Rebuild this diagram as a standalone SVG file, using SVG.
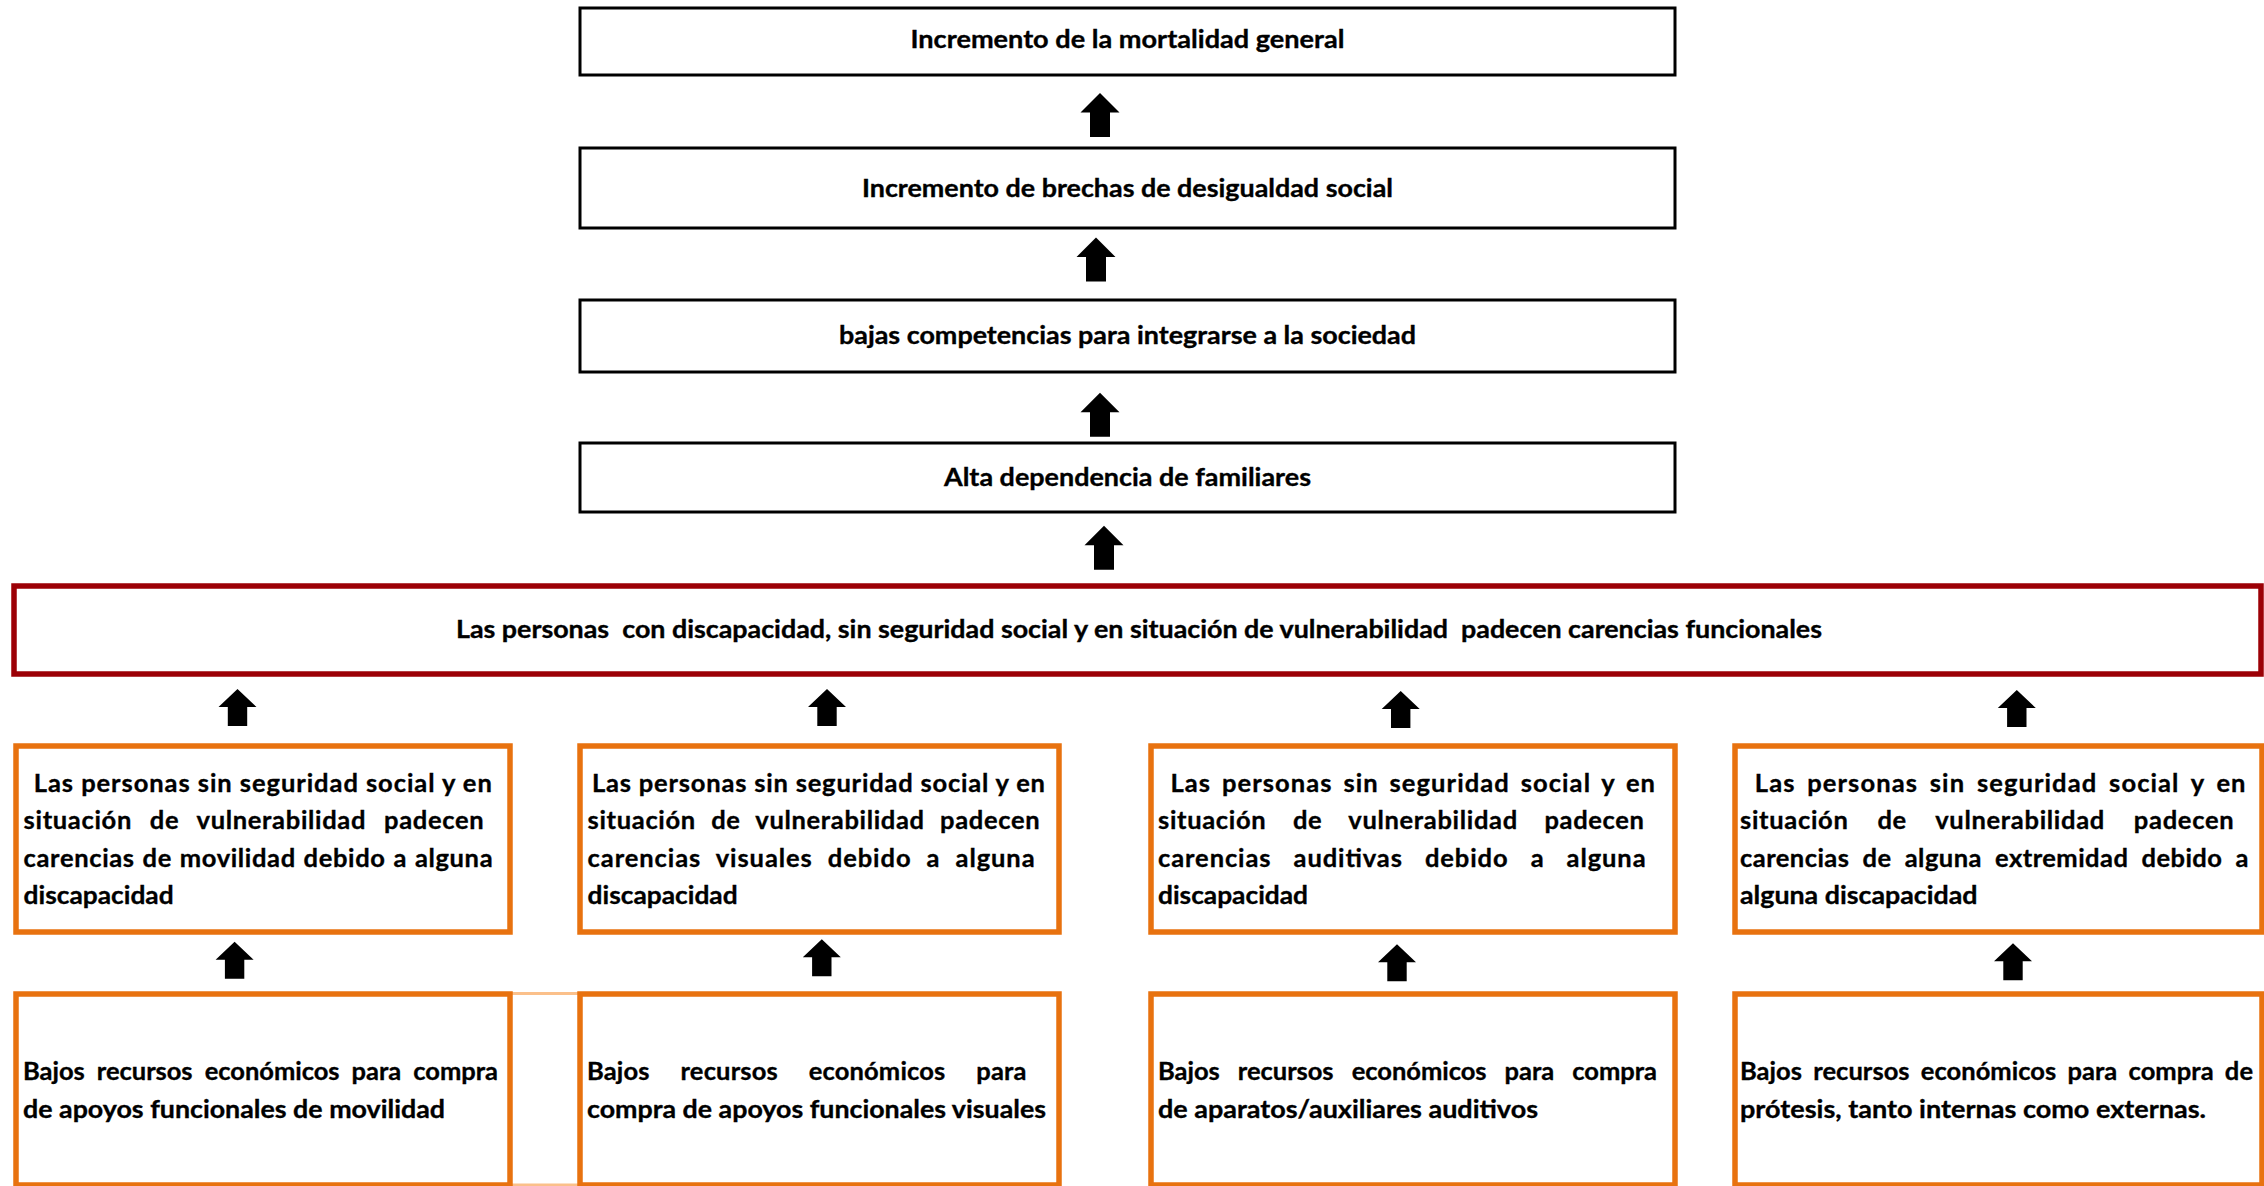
<svg xmlns="http://www.w3.org/2000/svg" xmlns:xlink="http://www.w3.org/1999/xlink" width="2264" height="1186" viewBox="0 0 2264 1186">
  <style>
    .bg { fill: #ffffff; }
    .effect { fill: #ffffff; stroke: #000000; stroke-width: 3; }
    .core { fill: #ffffff; stroke: #9c0006; stroke-width: 5.5; }
    .cause { fill: #ffffff; stroke: #e8720f; stroke-width: 5.5; }
    .seam { stroke: #fbc08a; stroke-width: 3; fill: none; }
    .arrow { fill: #000000; }
    text { font-family: "Lato", "Liberation Sans", sans-serif; font-weight: 700; fill: #000000; stroke: #000000; stroke-width: 0.35; }
    .t1 { font-size: 24px; }
    .t2 { font-size: 25.5px; }
  </style>
  <defs>
    <!-- block arrows, tip at the origin -->
    <path id="arrowL" d="M0,0 L19.5,19.5 L10,19.5 L10,44 L-10,44 L-10,19.5 L-19.5,19.5 Z"/>
    <path id="arrowS" d="M0,0 L19,18 L9.7,18 L9.7,37 L-9.7,37 L-9.7,18 L-19,18 Z"/>
  </defs>

  <rect class="bg" x="0" y="0" width="2264" height="1186"/>

  <!-- effects chain -->
  <g id="efecto-mortalidad">
    <rect class="effect" x="580" y="8" width="1095" height="67"/>
    <text class="t1" x="1127.5" y="48" text-anchor="middle" textLength="434" lengthAdjust="spacingAndGlyphs">Incremento de la mortalidad general</text>
  </g>
  <g id="efecto-brechas">
    <rect class="effect" x="580" y="148" width="1095" height="80"/>
    <text class="t1" x="1127.5" y="196.5" text-anchor="middle" textLength="531" lengthAdjust="spacingAndGlyphs">Incremento de brechas de desigualdad social</text>
  </g>
  <g id="efecto-competencias">
    <rect class="effect" x="580" y="300" width="1095" height="72"/>
    <text class="t1" x="1127.5" y="344" text-anchor="middle" textLength="577" lengthAdjust="spacingAndGlyphs">bajas competencias para integrarse a la sociedad</text>
  </g>
  <g id="efecto-dependencia">
    <rect class="effect" x="580" y="443" width="1095" height="69"/>
    <text class="t1" x="1127.5" y="486" text-anchor="middle" textLength="367" lengthAdjust="spacingAndGlyphs">Alta dependencia de familiares</text>
  </g>

  <!-- central problem -->
  <g id="problema-central">
    <rect class="core" x="14" y="586" width="2247" height="88"/>
    <text class="t1" x="456" y="638" textLength="1366" lengthAdjust="spacingAndGlyphs" xml:space="preserve">Las personas  con discapacidad, sin seguridad social y en situación de vulnerabilidad  padecen carencias funcionales</text>
  </g>

  <!-- direct causes -->
  <g id="causa-movilidad">
    <rect class="cause" x="16" y="746" width="494" height="186"/>
    <text class="t2" x="33.8" y="791.7" textLength="458" lengthAdjust="spacing">Las personas sin seguridad social y en</text>
    <text class="t2" x="23.6" y="829.2" word-spacing="11" textLength="460" lengthAdjust="spacing">situación de vulnerabilidad padecen</text>
    <text class="t2" x="23.6" y="866.7" word-spacing="1" textLength="469" lengthAdjust="spacing">carencias de movilidad debido a alguna</text>
    <text class="t2" x="23.6" y="904.2" textLength="150" lengthAdjust="spacingAndGlyphs">discapacidad</text>
  </g>
  <g id="causa-visual">
    <rect class="cause" x="580" y="746" width="479" height="186"/>
    <text class="t2" x="592" y="791.7" textLength="453" lengthAdjust="spacing">Las personas sin seguridad social y en</text>
    <text class="t2" x="587.6" y="829.2" word-spacing="8.5" textLength="452" lengthAdjust="spacing">situación de vulnerabilidad padecen</text>
    <text class="t2" x="587.6" y="866.7" word-spacing="8" textLength="447" lengthAdjust="spacing">carencias visuales debido a alguna</text>
    <text class="t2" x="587.6" y="904.2" textLength="150" lengthAdjust="spacingAndGlyphs">discapacidad</text>
  </g>
  <g id="causa-auditiva">
    <rect class="cause" x="1151" y="746" width="524" height="186"/>
    <text class="t2" x="1170.5" y="791.7" word-spacing="3.5" textLength="484.5" lengthAdjust="spacing">Las personas sin seguridad social y en</text>
    <text class="t2" x="1158" y="829.2" word-spacing="19.7" textLength="486" lengthAdjust="spacing">situación de vulnerabilidad padecen</text>
    <text class="t2" x="1158" y="866.7" word-spacing="15" textLength="487.6" lengthAdjust="spacing">carencias auditivas debido a alguna</text>
    <text class="t2" x="1158" y="904.2" textLength="150" lengthAdjust="spacingAndGlyphs">discapacidad</text>
  </g>
  <g id="causa-extremidad">
    <rect class="cause" x="1735" y="746" width="527" height="186"/>
    <text class="t2" x="1754.8" y="791.7" word-spacing="4.5" textLength="490.7" lengthAdjust="spacing">Las personas sin seguridad social y en</text>
    <text class="t2" x="1740" y="829.2" word-spacing="22" textLength="493.6" lengthAdjust="spacing">situación de vulnerabilidad padecen</text>
    <text class="t2" x="1740" y="866.7" word-spacing="6.5" textLength="508.5" lengthAdjust="spacing">carencias de alguna extremidad debido a</text>
    <text class="t2" x="1740" y="904.2" textLength="237.5" lengthAdjust="spacingAndGlyphs">alguna discapacidad</text>
  </g>

  <!-- root causes -->
  <line class="seam" x1="512" y1="993.5" x2="578" y2="993.5"/>
  <line class="seam" x1="512" y1="1185" x2="578" y2="1185"/>
  <g id="raiz-movilidad">
    <rect class="cause" x="16" y="994" width="494" height="191"/>
    <text class="t2" x="23" y="1080" word-spacing="6" textLength="475" lengthAdjust="spacing">Bajos recursos económicos para compra</text>
    <text class="t2" x="23" y="1117.5" textLength="422" lengthAdjust="spacingAndGlyphs">de apoyos funcionales de movilidad</text>
  </g>
  <g id="raiz-visual">
    <rect class="cause" x="580" y="994" width="479" height="191"/>
    <text class="t2" x="587" y="1080" word-spacing="24.5" textLength="439.5" lengthAdjust="spacing">Bajos recursos económicos para</text>
    <text class="t2" x="587" y="1117.5" textLength="459" lengthAdjust="spacingAndGlyphs">compra de apoyos funcionales visuales</text>
  </g>
  <g id="raiz-auditiva">
    <rect class="cause" x="1151" y="994" width="524" height="191"/>
    <text class="t2" x="1158" y="1080" word-spacing="12" textLength="499" lengthAdjust="spacing">Bajos recursos económicos para compra</text>
    <text class="t2" x="1158" y="1117.5" textLength="380" lengthAdjust="spacingAndGlyphs">de aparatos/auxiliares auditivos</text>
  </g>
  <g id="raiz-protesis">
    <rect class="cause" x="1735" y="994" width="527" height="191"/>
    <text class="t2" x="1740" y="1080" word-spacing="5" textLength="513" lengthAdjust="spacing">Bajos recursos económicos para compra de</text>
    <text class="t2" x="1740" y="1117.5" textLength="466" lengthAdjust="spacingAndGlyphs">prótesis, tanto internas como externas.</text>
  </g>

  <!-- connectors -->
  <g id="conectores" class="arrow">
    <use xlink:href="#arrowL" transform="translate(1100,93)"/>
    <use xlink:href="#arrowL" transform="translate(1096,237.5)"/>
    <use xlink:href="#arrowL" transform="translate(1100,392.7)"/>
    <use xlink:href="#arrowL" transform="translate(1104,525.7)"/>

    <use xlink:href="#arrowS" transform="translate(237.5,689)"/>
    <use xlink:href="#arrowS" transform="translate(827,689)"/>
    <use xlink:href="#arrowS" transform="translate(1400.7,691)"/>
    <use xlink:href="#arrowS" transform="translate(2016.8,690)"/>

    <use xlink:href="#arrowS" transform="translate(234.6,941.7)"/>
    <use xlink:href="#arrowS" transform="translate(821.8,939.3)"/>
    <use xlink:href="#arrowS" transform="translate(1397,944.3)"/>
    <use xlink:href="#arrowS" transform="translate(2013,943.3)"/>
  </g>
</svg>
